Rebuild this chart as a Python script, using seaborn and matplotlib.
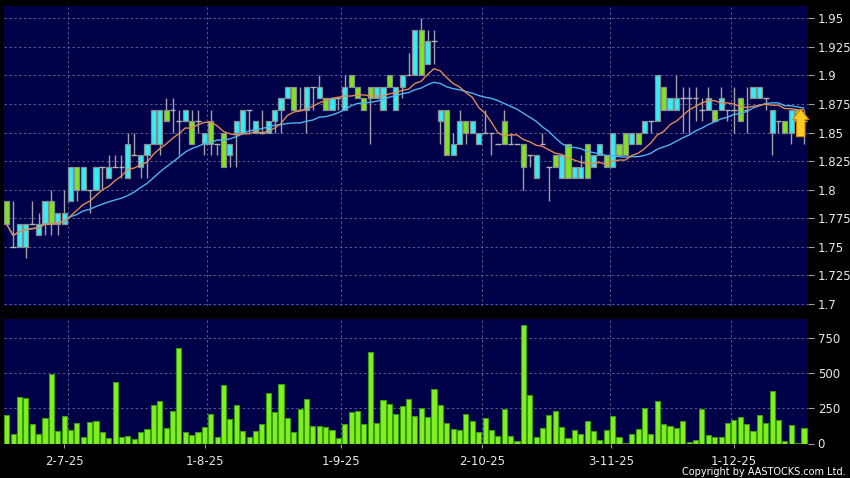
import matplotlib
matplotlib.use("Agg")
import matplotlib.pyplot as plt
import seaborn as sns
import numpy as np
import pandas as pd

# daily candles
opens = [1.79, 1.75, 1.75, 1.75, 1.77, 1.76, 1.77, 1.79, 1.77, 1.77,
         1.79, 1.82, 1.80, 1.80, 1.80, 1.82, 1.81, 1.82, 1.82, 1.81,
         1.83, 1.82, 1.83, 1.84, 1.84, 1.87, 1.87, 1.86, 1.86, 1.86,
         1.86, 1.84, 1.86, 1.84, 1.85, 1.83, 1.85, 1.85, 1.87, 1.85,
         1.85, 1.85, 1.86, 1.87, 1.88, 1.89, 1.87, 1.87, 1.89, 1.88,
         1.88, 1.87, 1.88, 1.87, 1.90, 1.89, 1.88, 1.89, 1.88, 1.87,
         1.90, 1.87, 1.89, 1.90, 1.90, 1.94, 1.91, 1.93, 1.86, 1.87,
         1.83, 1.84, 1.86, 1.85, 1.84, 1.85, 1.85, 1.84, 1.86, 1.84,
         1.84, 1.84, 1.83, 1.81, 1.84, 1.82, 1.83, 1.81, 1.84, 1.81,
         1.81, 1.84, 1.82, 1.83, 1.83, 1.82, 1.84, 1.85, 1.84, 1.85,
         1.85, 1.86, 1.86, 1.89, 1.87, 1.87, 1.88, 1.88, 1.88, 1.87,
         1.87, 1.87, 1.87, 1.87, 1.87, 1.88, 1.87, 1.88, 1.88, 1.88,
         1.85, 1.86, 1.86, 1.85, 1.87, 1.86]
highs = [1.79, 1.79, 1.77, 1.77, 1.79, 1.78, 1.79, 1.80, 1.78, 1.80,
         1.82, 1.82, 1.82, 1.80, 1.82, 1.82, 1.83, 1.83, 1.83, 1.85,
         1.85, 1.83, 1.84, 1.87, 1.87, 1.88, 1.88, 1.87, 1.87, 1.87,
         1.87, 1.85, 1.87, 1.84, 1.85, 1.84, 1.86, 1.87, 1.87, 1.86,
         1.87, 1.86, 1.87, 1.88, 1.89, 1.89, 1.89, 1.89, 1.89, 1.90,
         1.88, 1.88, 1.88, 1.90, 1.90, 1.89, 1.88, 1.89, 1.89, 1.89,
         1.90, 1.89, 1.90, 1.92, 1.94, 1.95, 1.94, 1.94, 1.87, 1.87,
         1.85, 1.87, 1.86, 1.86, 1.85, 1.87, 1.85, 1.84, 1.87, 1.85,
         1.84, 1.84, 1.83, 1.83, 1.85, 1.82, 1.83, 1.83, 1.84, 1.82,
         1.83, 1.84, 1.83, 1.84, 1.83, 1.85, 1.84, 1.85, 1.85, 1.85,
         1.86, 1.86, 1.90, 1.89, 1.88, 1.90, 1.89, 1.89, 1.89, 1.88,
         1.89, 1.87, 1.89, 1.87, 1.89, 1.88, 1.89, 1.89, 1.89, 1.88,
         1.87, 1.86, 1.86, 1.87, 1.87, 1.87]
lows = [1.77, 1.75, 1.75, 1.74, 1.77, 1.76, 1.76, 1.76, 1.76, 1.77,
        1.79, 1.79, 1.80, 1.78, 1.80, 1.80, 1.81, 1.82, 1.81, 1.81,
        1.83, 1.81, 1.81, 1.84, 1.83, 1.86, 1.85, 1.83, 1.86, 1.84,
        1.85, 1.83, 1.83, 1.83, 1.82, 1.82, 1.82, 1.85, 1.85, 1.85,
        1.85, 1.85, 1.85, 1.85, 1.88, 1.87, 1.87, 1.85, 1.87, 1.88,
        1.87, 1.87, 1.87, 1.87, 1.89, 1.88, 1.87, 1.84, 1.88, 1.87,
        1.89, 1.87, 1.88, 1.90, 1.90, 1.90, 1.91, 1.91, 1.84, 1.83,
        1.83, 1.84, 1.84, 1.85, 1.84, 1.85, 1.83, 1.84, 1.84, 1.84,
        1.84, 1.80, 1.82, 1.81, 1.84, 1.79, 1.82, 1.81, 1.81, 1.81,
        1.81, 1.81, 1.82, 1.83, 1.82, 1.82, 1.83, 1.83, 1.84, 1.84,
        1.85, 1.85, 1.86, 1.87, 1.87, 1.87, 1.85, 1.85, 1.86, 1.86,
        1.87, 1.86, 1.87, 1.86, 1.85, 1.86, 1.85, 1.88, 1.88, 1.87,
        1.83, 1.85, 1.85, 1.84, 1.86, 1.84]
closes = [1.77, 1.75, 1.77, 1.77, 1.77, 1.77, 1.79, 1.77, 1.78, 1.78,
          1.82, 1.80, 1.82, 1.80, 1.82, 1.82, 1.82, 1.82, 1.82, 1.84,
          1.83, 1.83, 1.84, 1.87, 1.87, 1.86, 1.87, 1.86, 1.87, 1.84,
          1.86, 1.85, 1.84, 1.84, 1.82, 1.84, 1.86, 1.87, 1.87, 1.86,
          1.85, 1.86, 1.87, 1.88, 1.89, 1.87, 1.87, 1.89, 1.89, 1.89,
          1.87, 1.88, 1.88, 1.89, 1.89, 1.88, 1.87, 1.88, 1.89, 1.89,
          1.89, 1.89, 1.90, 1.90, 1.94, 1.90, 1.93, 1.93, 1.87, 1.83,
          1.84, 1.86, 1.85, 1.86, 1.85, 1.85, 1.85, 1.84, 1.84, 1.84,
          1.84, 1.82, 1.83, 1.83, 1.84, 1.82, 1.82, 1.83, 1.81, 1.82,
          1.82, 1.81, 1.83, 1.84, 1.82, 1.85, 1.83, 1.83, 1.85, 1.84,
          1.86, 1.86, 1.90, 1.87, 1.88, 1.88, 1.88, 1.88, 1.88, 1.87,
          1.88, 1.86, 1.88, 1.87, 1.87, 1.86, 1.87, 1.89, 1.89, 1.88,
          1.87, 1.86, 1.85, 1.87, 1.86, 1.86]
volumes = [202, 71, 333, 326, 138, 71, 183, 493, 90, 195,
           95, 148, 48, 155, 160, 81, 38, 440, 45, 57,
           33, 83, 100, 274, 302, 110, 229, 679, 83, 62,
           81, 119, 210, 43, 414, 174, 276, 90, 45, 88,
           140, 357, 226, 426, 183, 81, 243, 317, 126, 124,
           117, 95, 36, 140, 226, 231, 140, 655, 148, 307,
           283, 212, 271, 314, 195, 255, 190, 386, 276, 143,
           102, 93, 212, 162, 83, 181, 95, 52, 248, 57,
           21, 843, 345, 48, 107, 202, 231, 119, 40, 93,
           67, 160, 86, 24, 95, 195, 48, 5, 67, 100,
           250, 67, 300, 136, 124, 110, 162, 14, 24, 243,
           64, 48, 48, 143, 167, 186, 136, 88, 200, 145,
           376, 171, 19, 133, 7, 110]

date_labels = ['2-7-25', '1-8-25', '1-9-25', '2-10-25', '3-11-25', '1-12-25']
date_pos = [9.03, 31.14, 52.46, 74.57, 94.7, 114.03]
grid_pos = [9.56, 31.45, 52.49, 74.47, 94.59, 113.48]
price_ticks = [1.7, 1.725, 1.75, 1.775, 1.8, 1.825, 1.85, 1.875, 1.9, 1.925, 1.95]
price_labels = ['1.7', '1.725', '1.75', '1.775', '1.8', '1.825', '1.85', '1.875', '1.9', '1.925', '1.95']
vol_ticks = [0, 250, 500, 750]

NAVY = '#000048'
CYAN = '#33EEF8'
GREEN = '#7EE61E'
TXT = '#E8E8E8'
GRID = '#5a5a8e'

df = pd.DataFrame({'open': opens, 'high': highs, 'low': lows,
                   'close': closes, 'volume': volumes})
df['idx'] = np.arange(len(df))
df['ma10'] = df['close'].rolling(10, min_periods=1).mean()
df['ma20'] = df['close'].rolling(20, min_periods=1).mean()

sns.set_style('dark', {'axes.facecolor': NAVY, 'figure.facecolor': 'black'})
plt.rcParams['font.family'] = ['DejaVu Sans']

fig = plt.figure(figsize=(8.5, 4.78), dpi=100)
ax = fig.add_axes([4 / 850, 1 - 306 / 478, 804 / 850, 300 / 478])
axv = fig.add_axes([4 / 850, 1 - 443.5 / 478, 804 / 850, 124.5 / 478])

# candles
up = df['close'] > df['open']
down = df['close'] < df['open']
flat = df['close'] == df['open']
ax.vlines(df['idx'], df['low'], df['high'], color='#a0a0a8', lw=1, zorder=2)
ax.bar(df['idx'][up], (df['close'] - df['open'])[up], bottom=df['open'][up],
       width=0.8, color=CYAN, edgecolor='#8c8c8c', lw=0.9, zorder=3)
ax.bar(df['idx'][down], (df['open'] - df['close'])[down], bottom=df['close'][down],
       width=0.8, color=GREEN, edgecolor='#8c8c8c', lw=0.9, zorder=3)
ax.hlines(df['close'][flat], df['idx'][flat] - 0.45, df['idx'][flat] + 0.45,
          color='#b4b4b4', lw=1, zorder=3)

sns.lineplot(data=df, x='idx', y='ma20', ax=ax, color='#4db4ec', lw=1, zorder=4)
sns.lineplot(data=df, x='idx', y='ma10', ax=ax, color='#e08a58', lw=1, zorder=4)

# last-day marker arrow
ax.annotate('', xy=(df['idx'].iloc[-1] - 0.5, 1.8705), xytext=(df['idx'].iloc[-1] - 0.5, 1.8465),
            arrowprops=dict(arrowstyle='simple,head_length=0.75,head_width=1.15,tail_width=0.6',
                            fc='#FFCC22', ec='#D08800', lw=0.8, shrinkA=0, shrinkB=0), zorder=6)

# volume
sns.barplot(x=df['idx'], y=df['volume'], ax=axv, native_scale=True, width=0.8,
            color='#80F020', saturation=1, edgecolor='#3C9A10', linewidth=0.8)

xlim = (-0.42, 125.63)
for a in (ax, axv):
    a.set_xlim(*xlim)
    a.set_facecolor(NAVY)
    for s in a.spines.values():
        s.set_visible(False)
    a.yaxis.tick_right()
    a.tick_params(axis='y', colors='#a0a0a0', labelcolor=TXT, labelsize=8.5,
                  length=4, width=0.8, direction='out', pad=3, right=True, left=False)
    a.set_xlabel('')
    a.set_ylabel('')
    a.grid(False)
    for p in grid_pos:
        a.axvline(p, color=GRID, lw=0.7, ls=(0, (2.5, 2.5)), zorder=0)

ax.set_ylim(1.6983, 1.9608)
ax.set_yticks(price_ticks)
ax.set_yticklabels(price_labels)
for t in price_ticks:
    ax.axhline(t, color=GRID, lw=0.7, ls=(0, (2.5, 2.5)), zorder=0)
ax.set_xticks([])

axv.set_ylim(0, 888)
axv.set_yticks(vol_ticks)
axv.set_yticklabels([str(v) for v in vol_ticks])
for t in vol_ticks[1:]:
    axv.axhline(t, color=GRID, lw=0.7, ls=(0, (2.5, 2.5)), zorder=0)
axv.set_xticks(date_pos)
axv.set_xticklabels(date_labels)
axv.tick_params(axis='x', colors='#a0a0a0', labelcolor=TXT, labelsize=8.5,
                length=3, width=0.8, direction='out', pad=5, bottom=True)

fig.text(0.995, 0.003, 'Copyright by AASTOCKS.com Ltd.', ha='right', va='bottom',
         color='white', fontsize=7)

fig.savefig('out.png', dpi=100, facecolor='black')
